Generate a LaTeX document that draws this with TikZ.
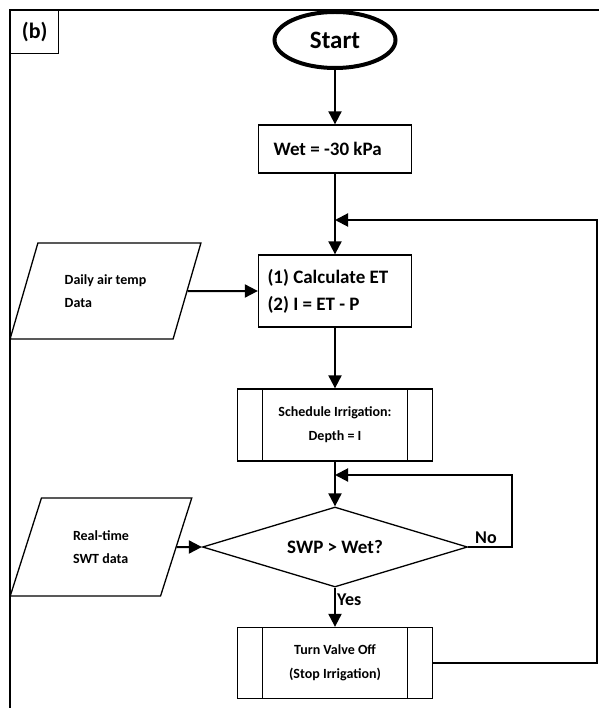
\documentclass[tikz,border=0pt]{standalone}
\usepackage{fontspec}
\setmainfont{Carlito}
\usetikzlibrary{shapes.geometric,arrows.meta}

\begin{document}
\begin{tikzpicture}[x=1pt, y=-1pt, font=\bfseries,
    box/.style = {shape=rectangle, draw, line width=1.3pt, minimum width=153pt, inner sep=0pt},
    subbox/.style = {box, minimum width=195pt, minimum height=72pt, align=center, font=\bfseries\fontsize{14}{24}\selectfont,
        path picture={\draw[line width=1.3pt] ([xshift=25pt]path picture bounding box.north west) -- ([xshift=25pt]path picture bounding box.south west)
            ([xshift=-25pt]path picture bounding box.north east) -- ([xshift=-25pt]path picture bounding box.south east);}},
    datain/.style = {shape=trapezium, trapezium stretches=true, trapezium left angle=63, trapezium right angle=117, draw, line width=1.3pt,
        align=left, inner sep=0pt, font=\bfseries\fontsize{14}{23}\selectfont},
    arr/.style = {line width=2pt, -{Triangle[length=13pt, width=13pt]}}]
    \useasboundingbox (0,0) rectangle (599,708);
    % frame and tag
    \draw[line width=1.3pt] (10,708) -- (10,10) -- (599,10);
    \node[draw, line width=1.3pt, minimum width=48pt, minimum height=43pt, anchor=north west, font=\bfseries\fontsize{22}{26}\selectfont] (tag) at (10,10) {(b)};
    % main column
    \node[draw, ellipse, line width=4pt, minimum width=121pt, minimum height=56pt, font=\bfseries\fontsize{25}{30}\selectfont] (start) at (335,40) {Start};
    \node[box, minimum height=48pt, text width=123pt, inner xsep=15pt, align=flush left, font=\bfseries\fontsize{19}{24}\selectfont] (wet) at (335,149) {Wet = -30 kPa};
    \node[box, minimum height=72pt, text width=135pt, inner xsep=9pt, align=flush left, font=\bfseries\fontsize{19}{27}\selectfont] (calc) at (335,291) {(1) Calculate ET\\(2) I = ET - P};
    \node[subbox] (sched) at (335,425) {Schedule Irrigation:\\Depth = I};
    \node[draw, diamond, line width=1.3pt, minimum width=265pt, minimum height=80pt, aspect=3.3, inner sep=0pt, font=\bfseries\fontsize{19}{23}\selectfont] (dec) at (335,547) {SWP > Wet?};
    \node[subbox, minimum height=71pt] (valve) at (335,663) {Turn Valve Off\\(Stop Irrigation)};
    % inputs
    \node[datain, minimum width=191pt, minimum height=96pt] (air) at (105.5,291) {Daily air temp\\Data};
    \node[datain, minimum width=182pt, minimum height=98pt, trapezium left angle=66, trapezium right angle=114] (swt) at (101,547) {Real-time\\SWT data};
    % labels
    \node[font=\bfseries\fontsize{18}{22}\selectfont, inner sep=0pt] (no) at (486,538) {No};
    \node[font=\bfseries\fontsize{18}{22}\selectfont, anchor=west, inner sep=1pt] (yes) at (336,600) {Yes};
    % loop corners
    \coordinate (m1) at (335,220);
    \coordinate (r1) at (597,220);
    \coordinate (m2) at (335,475);
    \coordinate (r2) at (512,475);
    % connectors
    \draw[arr] (start) -- (wet);
    \draw[arr] (wet) -- (calc);
    \draw[arr] (air.east) -- (calc.west);
    \draw[arr] (calc) -- (sched);
    \draw[arr] (sched) -- (dec);
    \draw[arr] (swt.east) -- (dec.west);
    \draw[arr] (dec) -- (valve);
    \draw[arr] (dec.east) -| (r2) -- (m2);
    \draw[arr] (valve.east) -| (r1) -- (m1);
\end{tikzpicture}
\end{document}
